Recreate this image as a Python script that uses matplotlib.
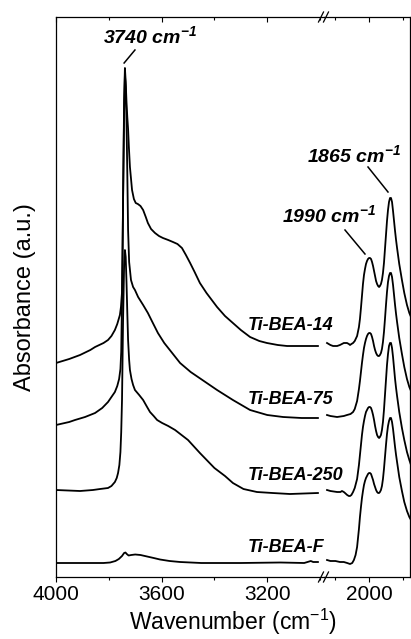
import matplotlib
matplotlib.use('Agg')
import matplotlib.pyplot as plt

plt.rcParams['font.family'] = ['Liberation Sans', 'DejaVu Sans']
plt.rcParams['mathtext.fontset'] = 'custom'
plt.rcParams['mathtext.rm'] = 'Liberation Sans'
plt.rcParams['mathtext.it'] = 'Liberation Sans:italic'
plt.rcParams['mathtext.bf'] = 'Liberation Sans:bold:italic'

# spectra, stacked (a.u.)
# left panel: 4000-3000 cm-1, right panel: 2250-1750 cm-1
wn_14_hi = [4000, 3950, 3909, 3870, 3852, 3820, 3803, 3790, 3777, 3768, 3758, 3754, 3750, 3748,
            3746, 3742, 3739, 3736, 3733, 3730, 3727, 3724, 3720, 3712, 3705, 3698, 3690, 3680,
            3670, 3660, 3652, 3640, 3625, 3610, 3595, 3575, 3557, 3540, 3523, 3508, 3492, 3475,
            3455, 3430, 3410, 3390, 3360, 3330, 3300, 3265, 3230, 3201, 3160, 3125, 3060, 3008]
ab_14_hi = [2.14, 2.18, 2.22, 2.27, 2.30, 2.34, 2.37, 2.41, 2.47, 2.53, 2.62, 2.70, 2.85, 3.20,
            3.77, 4.77, 5.09, 4.95, 4.75, 4.60, 4.48, 4.30, 4.10, 3.87, 3.78, 3.74, 3.73, 3.71,
            3.67, 3.60, 3.54, 3.48, 3.44, 3.41, 3.39, 3.37, 3.35, 3.33, 3.29, 3.22, 3.14, 3.05,
            2.94, 2.84, 2.77, 2.70, 2.61, 2.54, 2.47, 2.40, 2.36, 2.34, 2.32, 2.31, 2.31, 2.31]
wn_14_lo = [2250, 2230, 2214, 2190, 2173, 2150, 2131, 2120, 2113, 2105, 2095, 2085, 2071, 2060,
            2054, 2048, 2042, 2036, 2030, 2024, 2018, 2012, 2006, 2000, 1994, 1988, 1982, 1976,
            1970, 1964, 1958, 1952, 1946, 1940, 1935, 1929, 1923, 1917, 1911, 1905, 1899, 1893,
            1887, 1881, 1875, 1869, 1863, 1857, 1851, 1845, 1839, 1833, 1820, 1804, 1790, 1774,
            1760, 1750]
ab_14_lo = [2.34, 2.32, 2.31, 2.31, 2.32, 2.34, 2.34, 2.33, 2.32, 2.33, 2.34, 2.36, 2.41, 2.50,
            2.58, 2.69, 2.81, 2.93, 3.02, 3.08, 3.13, 3.16, 3.18, 3.19, 3.19, 3.18, 3.15, 3.11,
            3.06, 3.01, 2.96, 2.93, 2.91, 2.90, 2.91, 2.93, 2.97, 3.04, 3.14, 3.28, 3.42, 3.56,
            3.67, 3.75, 3.79, 3.79, 3.75, 3.66, 3.56, 3.46, 3.37, 3.29, 3.13, 2.97, 2.84, 2.72,
            2.64, 2.60]

wn_75_hi = [4000, 3950, 3928, 3890, 3852, 3825, 3803, 3790, 3777, 3768, 3761, 3756, 3753, 3750,
            3746, 3742, 3739, 3736, 3733, 3730, 3727, 3723, 3716, 3708, 3701, 3689, 3670, 3652,
            3635, 3614, 3590, 3560, 3530, 3490, 3440, 3390, 3330, 3265, 3200, 3140, 3070, 3008]
ab_75_hi = [1.52, 1.55, 1.57, 1.60, 1.64, 1.69, 1.75, 1.80, 1.85, 1.91, 1.98, 2.08, 2.25, 2.77,
            3.77, 4.67, 5.02, 4.90, 4.55, 4.05, 3.47, 3.15, 2.97, 2.90, 2.87, 2.80, 2.72, 2.64,
            2.55, 2.44, 2.34, 2.24, 2.14, 2.05, 1.96, 1.87, 1.77, 1.67, 1.62, 1.60, 1.59, 1.59]
wn_75_lo = [2250, 2230, 2190, 2150, 2131, 2110, 2095, 2085, 2071, 2060, 2054, 2048, 2042, 2036,
            2030, 2024, 2018, 2012, 2006, 2000, 1994, 1988, 1982, 1976, 1970, 1964, 1958, 1952,
            1946, 1940, 1935, 1929, 1923, 1917, 1911, 1905, 1899, 1893, 1887, 1881, 1875, 1869,
            1863, 1857, 1851, 1845, 1839, 1833, 1820, 1804, 1790, 1774, 1760, 1750]
ab_75_lo = [1.62, 1.61, 1.60, 1.61, 1.62, 1.63, 1.65, 1.68, 1.76, 1.88, 1.96, 2.05, 2.14, 2.22,
            2.29, 2.34, 2.38, 2.41, 2.43, 2.44, 2.44, 2.43, 2.40, 2.36, 2.31, 2.27, 2.24, 2.22,
            2.21, 2.21, 2.22, 2.24, 2.28, 2.35, 2.45, 2.58, 2.72, 2.85, 2.95, 3.01, 3.04, 3.04,
            3.00, 2.92, 2.82, 2.72, 2.63, 2.55, 2.39, 2.23, 2.10, 1.98, 1.90, 1.86]

wn_250_hi = [4000, 3909, 3860, 3833, 3803, 3790, 3777, 3770, 3765, 3760, 3756, 3753, 3750, 3746,
             3742, 3739, 3736, 3733, 3730, 3727, 3723, 3720, 3714, 3708, 3701, 3685, 3670, 3655,
             3644, 3630, 3617, 3598, 3575, 3549, 3500, 3455, 3400, 3360, 3330, 3290, 3239, 3180,
             3114, 3008]
ab_250_hi = [0.87, 0.86, 0.87, 0.88, 0.89, 0.91, 0.95, 0.99, 1.04, 1.12, 1.25, 1.45, 1.77, 2.57,
             3.12, 3.27, 3.20, 2.95, 2.65, 2.37, 2.17, 2.07, 1.98, 1.92, 1.87, 1.82, 1.77, 1.70,
             1.65, 1.61, 1.57, 1.54, 1.51, 1.47, 1.37, 1.24, 1.09, 1.01, 0.94, 0.88, 0.85, 0.84,
             0.83, 0.84]
wn_250_lo = [2250, 2230, 2190, 2170, 2161, 2150, 2143, 2130, 2120, 2113, 2105, 2095, 2085, 2071,
             2060, 2054, 2048, 2042, 2036, 2030, 2024, 2018, 2012, 2006, 2000, 1994, 1988, 1982,
             1976, 1970, 1964, 1958, 1952, 1946, 1940, 1935, 1929, 1923, 1917, 1911, 1905, 1899,
             1893, 1887, 1881, 1875, 1869, 1863, 1857, 1851, 1845, 1839, 1833, 1820, 1804, 1790,
             1774, 1760, 1750]
ab_250_lo = [0.87, 0.86, 0.85, 0.85, 0.86, 0.85, 0.84, 0.82, 0.81, 0.81, 0.82, 0.85, 0.89, 0.98,
             1.12, 1.22, 1.32, 1.42, 1.50, 1.56, 1.61, 1.65, 1.67, 1.69, 1.70, 1.70, 1.69, 1.66,
             1.62, 1.57, 1.51, 1.46, 1.42, 1.40, 1.39, 1.40, 1.42, 1.47, 1.55, 1.67, 1.82, 1.97,
             2.12, 2.23, 2.31, 2.34, 2.34, 2.29, 2.20, 2.09, 1.98, 1.89, 1.81, 1.65, 1.49, 1.37,
             1.25, 1.17, 1.12]

wn_F_hi = [4000, 3900, 3820, 3795, 3775, 3762, 3750, 3742, 3737, 3732, 3725, 3715, 3700, 3680,
           3655, 3630, 3606, 3570, 3530, 3450, 3300, 3150, 3060, 3035, 3026, 3008]
ab_F_hi = [0.14, 0.14, 0.14, 0.145, 0.16, 0.18, 0.21, 0.24, 0.245, 0.23, 0.215, 0.22, 0.225, 0.22,
           0.205, 0.19, 0.175, 0.16, 0.15, 0.14, 0.14, 0.145, 0.14, 0.16, 0.15, 0.15]
wn_F_lo = [2250, 2230, 2200, 2173, 2150, 2130, 2113, 2100, 2090, 2080, 2071, 2060, 2054, 2048,
           2042, 2036, 2030, 2024, 2018, 2012, 2006, 2000, 1994, 1988, 1982, 1976, 1970, 1964,
           1958, 1952, 1946, 1940, 1935, 1929, 1923, 1917, 1911, 1905, 1899, 1893, 1887, 1881,
           1875, 1869, 1863, 1857, 1851, 1845, 1839, 1833, 1820, 1804, 1790, 1774, 1760, 1750]
ab_F_lo = [0.17, 0.16, 0.16, 0.15, 0.15, 0.14, 0.13, 0.14, 0.17, 0.22, 0.30, 0.48, 0.60, 0.70,
           0.79, 0.86, 0.92, 0.96, 0.99, 1.01, 1.03, 1.04, 1.04, 1.03, 1.00, 0.97, 0.93, 0.90,
           0.87, 0.85, 0.84, 0.84, 0.85, 0.87, 0.91, 0.98, 1.08, 1.20, 1.32, 1.43, 1.51, 1.56,
           1.59, 1.59, 1.55, 1.48, 1.39, 1.30, 1.22, 1.15, 1.00, 0.86, 0.75, 0.66, 0.60, 0.57]

samples = ['Ti-BEA-14', 'Ti-BEA-75', 'Ti-BEA-250', 'Ti-BEA-F']
label_y = [2.52, 1.77, 1.02, 0.30]

W, H = 411, 639
fig = plt.figure(figsize=(W / 100, H / 100), dpi=100)
x0, xb, x1 = 56, 324, 410
y0, y1 = 577, 17
axl = fig.add_axes([x0 / W, (H - y0) / H, (xb - x0) / W, (y0 - y1) / H])
axr = fig.add_axes([xb / W, (H - y0) / H, (x1 - xb) / W, (y0 - y1) / H])

lw = 1.3
for wn, ab in [(wn_14_hi, ab_14_hi), (wn_75_hi, ab_75_hi), (wn_250_hi, ab_250_hi), (wn_F_hi, ab_F_hi)]:
    axl.plot(wn, ab, color='black', lw=lw)
for wn, ab in [(wn_14_lo, ab_14_lo), (wn_75_lo, ab_75_lo), (wn_250_lo, ab_250_lo), (wn_F_lo, ab_F_lo)]:
    axr.plot(wn, ab, color='black', lw=lw)

axl.set_xlim(4000, 2985)
axr.set_xlim(2268, 1756)
for ax in (axl, axr):
    ax.set_ylim(0, 5.6)
    ax.set_yticks([])
    ax.patch.set_visible(False)
    for s in ax.spines.values():
        s.set_linewidth(0.9)
    ax.tick_params(axis='x', direction='out', length=3.5, width=0.8, labelsize=15, pad=2.5)
    ax.tick_params(axis='x', which='minor', direction='out', length=2.5, width=0.8)
axl.spines['right'].set_visible(False)
axr.spines['left'].set_visible(False)

ticks = {axl: ([4000, 3600, 3200], [3800, 3400, 3000]),
         axr: ([2000], [2200, 1800])}
for ax, (major, minor) in ticks.items():
    ax.set_xticks(major)
    ax.set_xticks(minor, minor=True)
    top = ax.secondary_xaxis('top')
    top.set_xticks(major)
    top.set_xticks(minor, minor=True)
    top.tick_params(direction='in', length=3.5, width=0.8, labeltop=False)
    top.tick_params(which='minor', direction='in', length=2.5, width=0.8)
    top.spines['top'].set_visible(False)

# sample labels
for name, yy in zip(samples, label_y):
    axl.text(3273, yy, name, fontsize=13, fontweight='bold', fontstyle='italic',
             ha='left', va='center', clip_on=False, zorder=5)

# peak annotations
bi = dict(fontsize=14, fontweight='bold', fontstyle='italic', ha='center', va='center')
axl.text(3644, 5.41, r'3740 cm$^{\mathbf{-1}}$', **bi)
axl.plot([3701, 3742], [5.27, 5.14], color='black', lw=1.1)
axr.text(2089, 4.22, r'1865 cm$^{\mathbf{-1}}$', clip_on=False, **bi)
axr.plot([2006, 1887], [4.10, 3.85], color='black', lw=1.1, clip_on=False)
axr.text(2238, 3.62, r'1990 cm$^{\mathbf{-1}}$', clip_on=False, **bi)
axr.plot([2143, 2024], [3.47, 3.23], color='black', lw=1.1, clip_on=False)

# axis break marks
for yb in (y1, y0):
    for dx in (-3, 2):
        xc = xb + dx
        fig.add_artist(plt.Line2D([(xc - 2.5) / W, (xc + 2.5) / W],
                                  [(H - yb - 5) / H, (H - yb + 5) / H],
                                  color='black', lw=0.9))

fig.text((x0 + x1) / 2 / W, 1 - 622 / H, r'Wavenumber (cm$^{-1}$)', fontsize=16.5,
         ha='center', va='center')
fig.text(25 / W, 1 - 297 / H, 'Absorbance (a.u.)', fontsize=17, rotation=90,
         ha='center', va='center')

fig.savefig('out.png', dpi=100)
